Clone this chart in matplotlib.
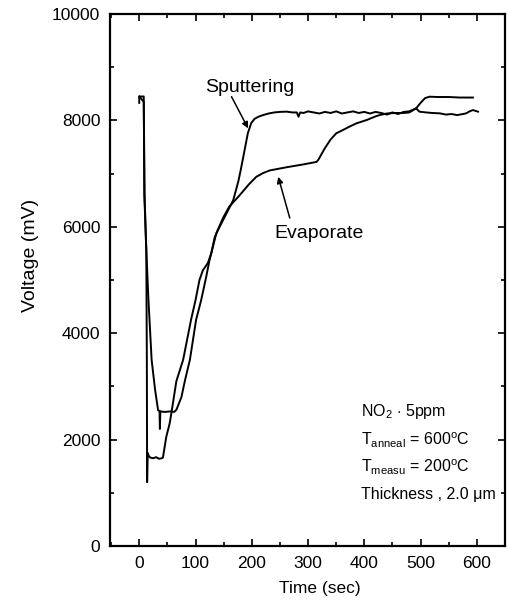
import matplotlib
matplotlib.use("Agg")
import matplotlib.pyplot as plt
from matplotlib.ticker import MultipleLocator

plt.rcParams['font.family'] = ['Liberation Sans', 'DejaVu Sans']
plt.rcParams['mathtext.fontset'] = 'custom'
plt.rcParams['mathtext.rm'] = 'Liberation Sans'

# ---- data ----
sputter_t = [0, 0, 8, 9, 12.5, 13.5, 14, 15, 17, 20, 25, 30, 35, 40, 42, 43, 48, 54, 57.5,
             66, 78, 92, 100, 107, 113, 122, 128, 134, 140, 155, 167, 176, 180, 185, 193, 199,
             205, 212, 220, 230, 240, 250, 262, 272, 280, 283, 286, 292, 300, 310, 320, 330,
             340, 350, 360, 370, 380, 390, 400, 410, 420, 430, 440, 450, 460, 470, 480, 492,
             498, 510, 520, 534, 545, 555, 565, 575, 581, 587, 593, 602]
sputter_v = [8330, 8450, 8450, 6600, 5600, 3500, 1200, 1750, 1690, 1660, 1650, 1670, 1640, 1650,
             1660, 1720, 2050, 2300, 2525, 3100, 3500, 4250, 4620, 5000, 5180, 5320, 5500, 5800,
             5940, 6250, 6500, 6850, 7050, 7320, 7760, 7950, 8030, 8070, 8100, 8130, 8150, 8160,
             8165, 8150, 8150, 8070, 8150, 8140, 8170, 8150, 8130, 8160, 8140, 8170, 8130, 8150,
             8170, 8140, 8160, 8130, 8160, 8140, 8110, 8150, 8120, 8160, 8170, 8227, 8164, 8150,
             8140, 8133, 8110, 8120, 8100, 8120, 8133, 8170, 8195, 8164]

evap_t = [0, 8, 9.5, 12, 16, 22, 28, 33.5, 36, 36.7, 37.5, 45, 55, 62, 66, 75, 81, 90, 101,
          110, 119, 125, 137, 149, 160, 179, 195, 208, 220, 232, 262, 290, 315, 318, 330, 340,
          350, 362, 375, 386, 404, 421, 427, 440, 455, 470, 480, 492, 500, 508, 516, 530, 550,
          570, 593]
evap_v = [8450, 8350, 6600, 5700, 4700, 3500, 2950, 2550, 2540, 2200, 2530, 2520, 2530, 2520,
          2560, 2800, 3100, 3500, 4250, 4620, 5060, 5380, 5880, 6170, 6380, 6600, 6800, 6940,
          7010, 7060, 7120, 7170, 7220, 7256, 7480, 7640, 7757, 7820, 7890, 7945, 8007, 8080,
          8100, 8130, 8140, 8140, 8150, 8227, 8330, 8420, 8446, 8440, 8440, 8430, 8430]

x_ticks = [0, 100, 200, 300, 400, 500, 600]
y_ticks = [0, 2000, 4000, 6000, 8000, 10000]

fig = plt.figure(figsize=(5.08, 6.07), dpi=100)
ax = fig.add_axes([0.2165, 0.1005, 0.7776, 0.8764])

ax.plot(sputter_t, sputter_v, color='black', lw=1.4)
ax.plot(evap_t, evap_v, color='black', lw=1.4)

ax.set_xlim(-52, 650)
ax.set_ylim(0, 10000)
ax.set_xticks(x_ticks)
ax.set_yticks(y_ticks)
ax.xaxis.set_minor_locator(MultipleLocator(50))
ax.yaxis.set_minor_locator(MultipleLocator(1000))
ax.tick_params(which='both', direction='in', top=True, right=True, width=1.2)
ax.tick_params(which='major', length=5, labelsize=12.5, pad=7)
ax.tick_params(which='minor', length=3)
for s in ax.spines.values():
    s.set_linewidth(1.6)

ax.set_xlabel('Time (sec)', fontsize=12.5, labelpad=8)
ax.xaxis.set_label_coords(0.53, -0.065)
ax.set_ylabel('Voltage (mV)', fontsize=14, labelpad=8)
ax.yaxis.set_label_coords(-0.18, 0.547)

arrow = dict(arrowstyle='-|>', color='black', lw=1.1, mutation_scale=9, shrinkA=0, shrinkB=0)
ax.text(197, 8610, 'Sputtering', fontsize=14, ha='center', va='center')
ax.text(319, 5880, 'Evaporate', fontsize=14, ha='center', va='center')
ax.annotate('', xy=(193.5, 7850), xytext=(164, 8446), arrowprops=arrow)
ax.annotate('', xy=(247, 6940), xytext=(267.5, 6165), arrowprops=arrow)

info = [r'NO$_2$ $\cdot$ 5ppm',
        r'T$_{\mathregular{anneal}}$ = 600$^{\mathregular{o}}$C',
        r'T$_{\mathregular{measu}}$ = 200$^{\mathregular{o}}$C',
        'Thickness , 2.0 μm']
info_y = [2520, 1990, 1470, 960]
for s, yv in zip(info, info_y):
    ax.text(394, yv, s, fontsize=11.5, ha='left', va='center')

fig.savefig('out.png', dpi=100)
